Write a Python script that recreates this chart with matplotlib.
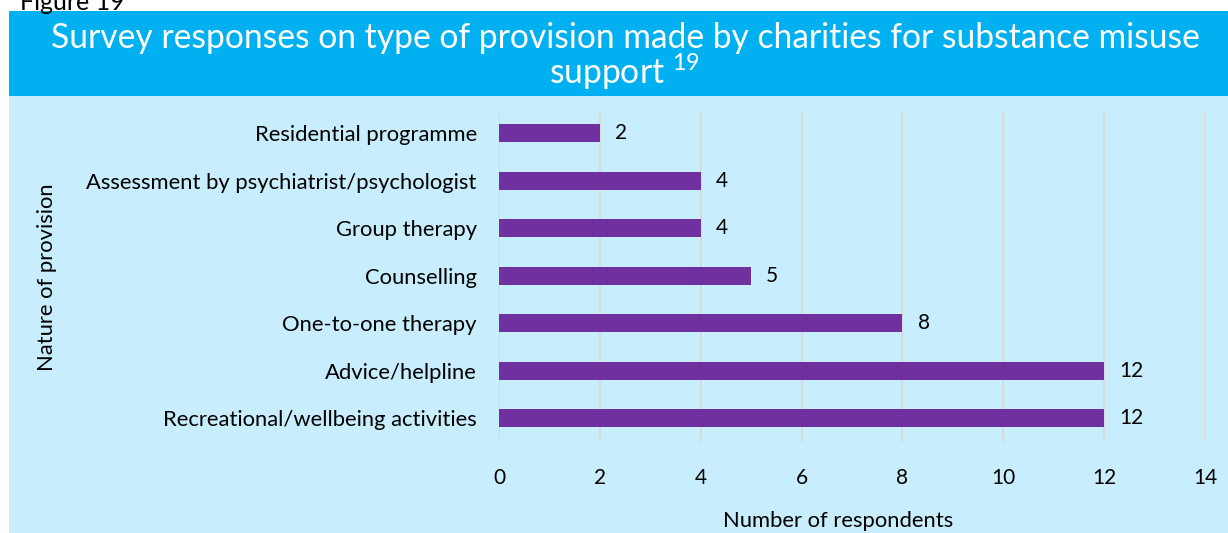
import matplotlib
matplotlib.use("Agg")
import matplotlib.pyplot as plt
from matplotlib.patches import Rectangle

categories = ["Recreational/wellbeing activities", "Advice/helpline", "One-to-one therapy",
              "Counselling", "Group therapy", "Assessment by psychiatrist/psychologist",
              "Residential programme"]
values = [12, 12, 8, 5, 4, 4, 2]
xticks = [0, 2, 4, 6, 8, 10, 12, 14]

plt.rcParams['font.family'] = ['Lato', 'DejaVu Sans']

W, H = 1228, 533
fig = plt.figure(figsize=(W / 100, H / 100), dpi=100)
fig.patch.set_facecolor('white')

# background panels
fig.patches.append(Rectangle((9 / W, 0), 1 - 9 / W, 1 - 96 / H, transform=fig.transFigure,
                             facecolor='#C8EEFD', edgecolor='none', zorder=-2))
fig.patches.append(Rectangle((9 / W, 1 - 96 / H), 1 - 9 / W, (96 - 11) / H, transform=fig.transFigure,
                             facecolor='#00B0F0', edgecolor='none', zorder=-2))

fig.text(20 / W, 1 - 2 / H, "Figure 19", fontsize=18, color='black', va='center', ha='left')
fig.text(625 / W, 1 - 38 / H, "Survey responses on type of provision made by charities for substance misuse",
         fontsize=24.2, color='white', ha='center', va='center')
fig.text(625 / W, 1 - 72 / H, r"support $^{\mathregular{19}}$",
         fontsize=24.2, color='white', ha='center', va='center')

ax = fig.add_axes([499 / W, 1 - 442 / H, (1205 - 499) / W, (442 - 112) / H], zorder=2)
ax.set_facecolor('none')
ypos = list(range(len(categories)))
ax.barh(ypos, values, height=0.38, color='#7030A0', zorder=3)
for y, v in zip(ypos, values):
    ax.text(v + 0.3, y, str(v), va='center', ha='left', fontsize=15, color='black')

ax.set_xlim(0, 14)
ax.set_ylim(-0.5, 6.45)
ax.set_xticks(xticks)
ax.set_xticklabels([str(t) for t in xticks])
ax.set_yticks(ypos)
ax.set_yticklabels(categories)
ax.tick_params(axis='x', length=0, pad=19, labelsize=15)
ax.tick_params(axis='y', length=0, pad=16, labelsize=15.8)
ax.grid(axis='x', color='#D9D9D9', linewidth=1.5, zorder=1)
ax.set_axisbelow(True)
for s in ax.spines.values():
    s.set_visible(False)

fig.text(838 / W, 1 - 521 / H, "Number of respondents", fontsize=15.8, ha='center', va='center')
fig.text(47 / W, 1 - 277 / H, "Nature of provision", rotation=90, fontsize=15.8,
         ha='center', va='center')

fig.savefig("out.png", dpi=100)
